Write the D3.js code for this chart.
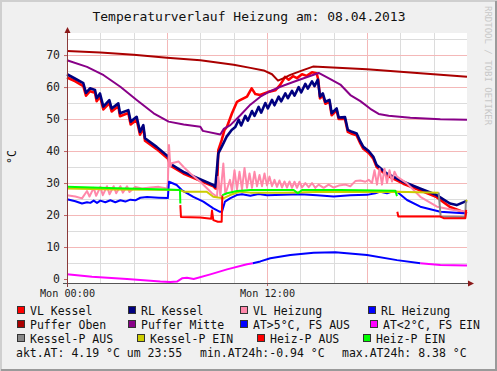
<!DOCTYPE html>
<html>
<head>
<meta charset="utf-8">
<script src="https://cdn.jsdelivr.net/npm/d3@7"></script>
<style>
body { margin: 0; background: #f0f0f0; }
svg { display: block; font-family: 'DejaVu Sans Mono', monospace; }
</style>
</head>
<body>
<div class="visHolder"></div>
<script>
// values, [hour, °C]
var vlKessel = [[0,63],[0.5,61.8],[0.98,60.3],[1.14,57.3],[1.38,58.7],[1.68,58.2],[1.78,55.6],[1.98,57.1],[2.18,53],[2.54,55],[2.68,52.4],[3.08,54],[3.18,50.9],[3.68,51.9],[3.82,48.3],[4.18,49.8],[4.38,45.1],[4.58,47.2],[4.68,43.2],[5.38,40.6],[6.08,37.5],[6.18,35.5],[6.98,33],[8.78,29],[8.9,28.3],[9.0,28.3],[9.08,40.3],[9.28,43.4],[9.45,46.6],[9.6,47.6],[9.9,51.8],[10.2,55.4],[10.38,55.9],[10.8,57],[11.08,59.6],[11.3,57.8],[11.58,57.5],[12.08,58.5],[12.5,59],[12.78,60.6],[12.95,62],[13.08,63.2],[13.3,62.3],[13.56,63.4],[13.8,62.8],[14.1,64],[14.38,63.5],[14.7,64.6],[14.98,64.3],[15.08,62.2],[15.18,56.5],[15.35,57.4],[15.5,54.8],[15.75,55.4],[15.88,51.2],[16.18,52.7],[16.3,50],[16.68,50],[16.85,46],[17.1,45.4],[17.38,44.9],[17.6,42.4],[17.78,40.7],[18.1,39.4],[18.38,37.6],[18.58,35],[19.18,32.4],[20.18,29.8],[21.18,27.7],[22.18,25.6],[22.98,22.5],[23.5,21.5],[24,20.5]];
var rlKessel = [[0,64],[0.5,62.6],[0.98,61.2],[1.14,58.2],[1.38,59.6],[1.68,59.1],[1.78,56.5],[1.98,58],[2.18,53.9],[2.54,55.9],[2.68,53.3],[3.08,54.9],[3.18,51.8],[3.68,52.8],[3.82,49.2],[4.18,50.7],[4.38,46],[4.58,48.1],[4.68,44],[5.38,41.3],[6.08,38.2],[6.18,36.1],[6.98,33.5],[8.78,29.4],[8.9,28.8],[9.08,39.3],[9.28,41.3],[9.58,44.5],[9.88,46.6],[10.1,47.5],[10.3,49.8],[10.45,48],[10.7,51],[10.85,49.5],[11.1,52.5],[11.25,51],[11.5,53.8],[11.65,52],[11.9,55],[12.05,53.3],[12.3,56],[12.45,54.3],[12.7,57],[12.85,55.5],[13.1,58],[13.25,56.5],[13.5,58.8],[13.65,57.3],[13.9,60],[14.05,58.3],[14.3,61],[14.45,59.5],[14.7,61.8],[14.85,60.3],[15.05,62.3],[15.18,57],[15.35,58],[15.5,55.4],[15.75,56],[15.88,51.8],[16.18,53.3],[16.3,50.5],[16.68,50.6],[16.85,46.6],[17.1,46],[17.38,45.5],[17.6,43],[17.78,41.3],[18.1,40],[18.38,38.2],[18.58,35.6],[19.18,33],[20.18,30.4],[21.18,28.3],[22.18,26.25],[22.98,23.6],[23.38,23.1],[23.88,24.2],[24,24.4]];
var vlHeizung = [[0,26.2],[0.5,25.8],[0.9,25.2],[1.2,27.5],[1.35,25.8],[1.6,28.5],[1.75,26],[2,28.8],[2.15,26.2],[2.4,29],[2.55,26.5],[2.8,29],[2.95,26.8],[3.2,29],[3.35,27],[3.6,29],[3.75,27.2],[4.1,28.8],[4.5,28.3],[5,28.6],[5.5,28.8],[6,28.3],[6.05,30],[6.12,41.9],[6.2,35.1],[6.28,36.2],[6.7,36.7],[6.98,35.1],[7.4,33],[8,30.4],[8.7,26.8],[9,25.7],[9.08,32],[9.2,26],[9.38,36.1],[9.5,26.5],[9.78,31],[9.9,27.5],[10.05,34],[10.2,28],[10.35,33.5],[10.5,28],[10.65,34.7],[10.8,28.5],[10.95,33],[11.1,28.5],[11.25,33.5],[11.4,29],[11.55,32.5],[11.7,29],[11.85,33],[12,29.2],[12.15,32],[12.3,29],[12.45,31],[12.6,28.8],[12.75,30.8],[12.9,28.6],[13.05,30.5],[13.2,28.6],[13.35,30.5],[13.5,28.5],[13.65,30.4],[13.8,28.5],[13.95,30.4],[14.1,28.6],[14.3,30],[14.5,28.7],[14.7,30],[14.9,28.5],[15.1,29.5],[15.4,28.5],[15.7,29.5],[16,28.6],[16.3,29.2],[16.7,29.5],[17,29],[17.3,30.6],[17.6,30.8],[17.9,30.4],[18.1,31],[18.3,30],[18.45,34],[18.6,29.5],[18.75,34.5],[18.9,29.5],[19.05,34.5],[19.2,30],[19.35,34],[19.5,30.5],[19.65,33.5],[19.8,32],[20.4,29.9],[21.2,25.7],[22.2,22.6],[23.2,21.6],[24,21]];
var rlHeizung = [[0,24.9],[0.5,24.3],[0.9,23.6],[1.2,24],[1.4,23.8],[1.6,24.5],[1.8,23.8],[2,24.5],[2.3,24],[2.6,24.6],[2.9,24],[3.2,24.6],[3.5,24.2],[3.8,24.8],[4.1,24.6],[4.4,25.4],[4.8,25.6],[5.5,25.4],[6.05,25.3],[6.12,30.4],[6.3,30],[6.58,29.4],[6.88,27.8],[7.58,25.7],[8.18,24.2],[8.78,22.1],[9.18,21],[9.3,21],[9.48,24.2],[9.78,25.2],[10.18,26.25],[10.5,26.5],[11,26],[11.5,26.6],[12,26.2],[13,26.3],[14,26.5],[15,26.2],[16,25.8],[17,26.2],[18,26.3],[18.5,26.8],[18.8,27.3],[19.2,26.8],[19.5,27.3],[19.8,27.3],[20.4,24.7],[21.2,22.6],[22.4,21],[24,20.5]];
var pufferOben = [[0,71.3],[2,70.8],[4,70.1],[6,69.2],[8,68.4],[10,67],[11,66],[11.8,65.2],[12.3,64],[12.66,62],[13,62.8],[13.4,63.8],[14,65],[14.76,66.4],[18,65.6],[21,64.4],[24,63.2]];
var pufferMitte = [[0,68.4],[1.2,66.3],[2.2,63.7],[3.2,60.1],[4.2,55.9],[5.2,51.8],[6.1,49.2],[7,48.3],[8,47.6],[8.15,46.3],[9.2,45.2],[9.4,46.9],[9.8,48.1],[10.4,51.2],[11,54.5],[11.6,57],[12.2,58.7],[12.8,60.1],[13.9,62.2],[15.1,64.4],[15.8,62.5],[16.4,60.8],[17,57.5],[17.6,55.6],[18.2,53.2],[18.7,51.6],[19.3,51],[20.6,50.4],[22.4,49.9],[24,49.8]];
var aussenTemp = [[0,1.45],[1.5,0.7],[3.6,0],[5.6,-0.8],[6.2,-0.94],[6.6,-0.8],[6.9,0.2],[7.2,0.4],[7.6,0],[8.6,1.45],[9.6,3],[10.8,4.6],[11.15,4.95],[11.6,5.5],[12.2,6.5],[13.4,7.5],[14.8,8.2],[16.1,8.38],[18,7.5],[19.8,5.9],[21.2,4.9],[22.4,4.4],[24,4.19]];
var fsAusFrom = 11.15, fsAusTo = 21.2;

// pump state lines, one list per segment
var kesselPEin = [[[0,28.3],[3,28],[6.78,27.8],[7,27.3],[8.38,27.3],[8.78,25.7],[9.38,25.2],[9.78,26.25],[10.38,27.3],[11,27],[13,27],[15,27.2],[17,27.2],[19.8,27.3],[22.3,27]],[[23.93,24.2],[24,24.7]]];
var kesselPAus = [[[22.3,27],[22.42,19.5],[23.9,19.4],[23.93,24.2]]];
var heizPEin = [[[0,28.8],[3,28.4],[6,28],[6.78,27.8],[6.8,23.6]],[[9.32,26.2],[9.6,26.8],[10.2,27.5],[11,27.8],[13.6,27.8],[13.85,26.8],[14.1,27.8],[16.4,27.8],[19.7,27.6],[19.8,25.9]]];
var heizPAus = [[[6.8,23.1],[6.84,19.4],[8,19.2],[8.65,18.8],[8.7,21.4],[8.78,18.4],[9.05,17.9],[9.28,17.9],[9.32,26.2]],[[19.82,21],[19.88,19.5],[22.4,19.5],[22.6,19],[23.9,19],[23.95,21.6]]];

var xTicks = [0, 12];
var xTickLabels = ['Mon 00:00', 'Mon 12:00'];
var yTicks = [0, 10, 20, 30, 40, 50, 60, 70];

var legendNames = ['VL Kessel', 'RL Kessel', 'VL Heizung', 'RL Heizung',
    'Puffer Oben', 'Puffer Mitte', 'AT>5°C, FS AUS', 'AT<2°C, FS EIN',
    'Kessel-P AUS', 'Kessel-P EIN', 'Heiz-P AUS', 'Heiz-P EIN'];
var legendColors = ['#ff0000', '#000080', '#ff88aa', '#0000ff',
    '#aa0000', '#880088', '#0000ff', '#ff00ff',
    '#888888', '#cccc00', '#ff0000', '#00ff00'];

var aktAT = '4.19', aktZeit = '23:55', minAT = '-0.94', maxAT = '8.38';

var width = 497,
    height = 371,
    plotLeft = 67,
    plotTop = 33,
    plotWidth = 400,
    plotHeight = 250;

var svg = d3
    .select('.visHolder')
    .append('svg')
    .attr('width', width)
    .attr('height', height);

// frame
svg.append('rect').attr('width', width).attr('height', height).style('fill', '#f0f0f0');
svg.append('path').attr('d', 'M1,' + height + 'V1H' + width).style('fill', 'none').style('stroke', '#cfcfcf').style('stroke-width', 2);
svg.append('path').attr('d', 'M1,' + (height - 1) + 'H' + (width - 1) + 'V1').style('fill', 'none').style('stroke', '#9a9a9a').style('stroke-width', 2);

// canvas
svg.append('rect')
    .attr('x', plotLeft)
    .attr('y', plotTop)
    .attr('width', plotWidth)
    .attr('height', plotHeight)
    .style('fill', '#ffffff');

var xScale = d3.scaleLinear().domain([0, 24]).range([plotLeft, plotLeft + plotWidth]);
var yScale = d3.scaleLinear().domain([-1.25, 76.9]).range([plotTop + plotHeight, plotTop]);

// grid
var grid = svg.append('g').attr('shape-rendering', 'crispEdges');
grid.selectAll('.vgrid')
    .data(d3.range(2, 24, 2))
    .enter()
    .append('line')
    .attr('x1', d => Math.round(xScale(d)) + 0.5)
    .attr('x2', d => Math.round(xScale(d)) + 0.5)
    .attr('y1', plotTop)
    .attr('y2', plotTop + plotHeight)
    .style('stroke', d => d % 6 === 0 ? '#f4b8b8' : '#dcdcdc');
grid.selectAll('.hgrid')
    .data(d3.range(5, 76, 5))
    .enter()
    .append('line')
    .attr('x1', plotLeft)
    .attr('x2', plotLeft + plotWidth)
    .attr('y1', d => Math.round(yScale(d)) + 0.5)
    .attr('y2', d => Math.round(yScale(d)) + 0.5)
    .style('stroke', d => d % 10 === 0 ? '#f4b8b8' : '#dcdcdc');

// lines
var line = d3.line()
    .x(d => xScale(d[0]))
    .y(d => yScale(d[1]));

var plot = svg.append('g')
    .style('fill', 'none')
    .style('stroke-linejoin', 'round');

function drawLine(points, color, w) {
    plot.append('path')
        .datum(points)
        .attr('d', line)
        .style('stroke', color)
        .style('stroke-width', w);
}

drawLine(vlKessel, '#ff0000', 2.6);
drawLine(rlKessel, '#000080', 2.6);
drawLine(vlHeizung, '#ff88aa', 2);
drawLine(rlHeizung, '#0000ff', 2);
drawLine(pufferOben, '#aa0000', 2);
drawLine(pufferMitte, '#880088', 2);

drawLine(aussenTemp.filter(d => d[0] <= fsAusFrom), '#ff00ff', 2);
drawLine(aussenTemp.filter(d => d[0] >= fsAusFrom && d[0] <= fsAusTo), '#0000ff', 2);
drawLine(aussenTemp.filter(d => d[0] >= fsAusTo), '#ff00ff', 2);

kesselPEin.forEach(s => drawLine(s, '#cccc00', 2));
kesselPAus.forEach(s => drawLine(s, '#888888', 2));
heizPAus.forEach(s => drawLine(s, '#ff0000', 2));
heizPEin.forEach(s => drawLine(s, '#00ff00', 2));

// axes
var yAxis = d3.axisLeft(yScale).tickValues(yTicks).tickSize(3).tickPadding(4);
var yAxisG = svg.append('g')
    .attr('transform', 'translate(' + plotLeft + ',0)')
    .call(yAxis);
yAxisG.select('.domain').remove();
yAxisG.selectAll('line').style('stroke', '#c06060');
yAxisG.selectAll('text')
    .style('font-family', 'DejaVu Sans Mono')
    .style('font-size', '11.5px')
    .style('fill', '#222');

var xAxis = d3.axisBottom(xScale)
    .tickValues(xTicks)
    .tickFormat((d, i) => xTickLabels[i])
    .tickSize(3)
    .tickPadding(4);
var xAxisG = svg.append('g')
    .attr('transform', 'translate(0,' + (plotTop + plotHeight) + ')')
    .call(xAxis);
xAxisG.select('.domain').remove();
xAxisG.selectAll('line').style('stroke', '#c06060');
xAxisG.selectAll('text')
    .style('font-family', 'DejaVu Sans Mono')
    .style('font-size', '10.2px')
    .style('fill', '#222');

// axis lines and arrows
svg.append('line')
    .attr('x1', plotLeft - 4).attr('x2', plotLeft + plotWidth + 2)
    .attr('y1', plotTop + plotHeight + 0.5).attr('y2', plotTop + plotHeight + 0.5)
    .style('stroke', '#555');
svg.append('line')
    .attr('x1', plotLeft + 0.5).attr('x2', plotLeft + 0.5)
    .attr('y1', plotTop - 2).attr('y2', plotTop + plotHeight + 4)
    .style('stroke', '#8b3a3a');
svg.append('path')
    .attr('d', 'M' + (plotLeft + 0.5) + ',' + (plotTop - 6) + 'l-3,6h6z')
    .style('fill', '#8b1a1a');
svg.append('path')
    .attr('d', 'M' + (plotLeft + plotWidth + 7) + ',' + (plotTop + plotHeight + 0.5) + 'l-6,-3v6z')
    .style('fill', '#8b1a1a');

// title and labels
svg.append('text')
    .attr('x', 249)
    .attr('y', 21)
    .attr('text-anchor', 'middle')
    .style('font-size', '13px')
    .style('fill', '#111')
    .text('Temperaturverlauf Heizung am: 08.04.2013');

svg.append('text')
    .attr('transform', 'translate(16,157) rotate(-90)')
    .attr('text-anchor', 'middle')
    .style('font-size', '11.5px')
    .style('fill', '#111')
    .text('°C');

svg.append('text')
    .attr('transform', 'translate(485,6) rotate(90)')
    .style('font-size', '9px')
    .style('fill', '#c8c8c8')
    .text('RRDTOOL / TOBI OETIKER');

// legend, swatch x per row and column (rows are justified separately)
var rowSwatchX = [[17, 128, 240, 368], [17, 128, 240, 370], [17, 137, 257, 363]];

var legend = svg.selectAll('.legend')
    .data(legendNames)
    .enter()
    .append('g')
    .attr('class', 'legend')
    .attr('transform', (d, i) => 'translate(' + rowSwatchX[Math.floor(i / 4)][i % 4] + ',' + (315 + Math.floor(i / 4) * 14) + ')');

legend.append('rect')
    .attr('x', 0.5)
    .attr('y', -8.5)
    .attr('width', 7)
    .attr('height', 7)
    .style('fill', (d, i) => legendColors[i])
    .style('stroke', '#333')
    .style('stroke-width', 1);

legend.append('text')
    .attr('x', 13)
    .attr('y', 0)
    .style('font-size', '11.5px')
    .style('fill', '#111')
    .text(d => d);

var statY = 315 + 3 * 14;
svg.append('text').attr('x', 16).attr('y', statY).style('font-size', '11.5px').style('fill', '#111')
    .text('akt.AT: ' + aktAT + ' °C um ' + aktZeit);
svg.append('text').attr('x', 200).attr('y', statY).style('font-size', '11.5px').style('fill', '#111')
    .text('min.AT24h:' + minAT + ' °C');
svg.append('text').attr('x', 342).attr('y', statY).style('font-size', '11.5px').style('fill', '#111')
    .text('max.AT24h: ' + maxAT + ' °C');
</script>
</body>
</html>
